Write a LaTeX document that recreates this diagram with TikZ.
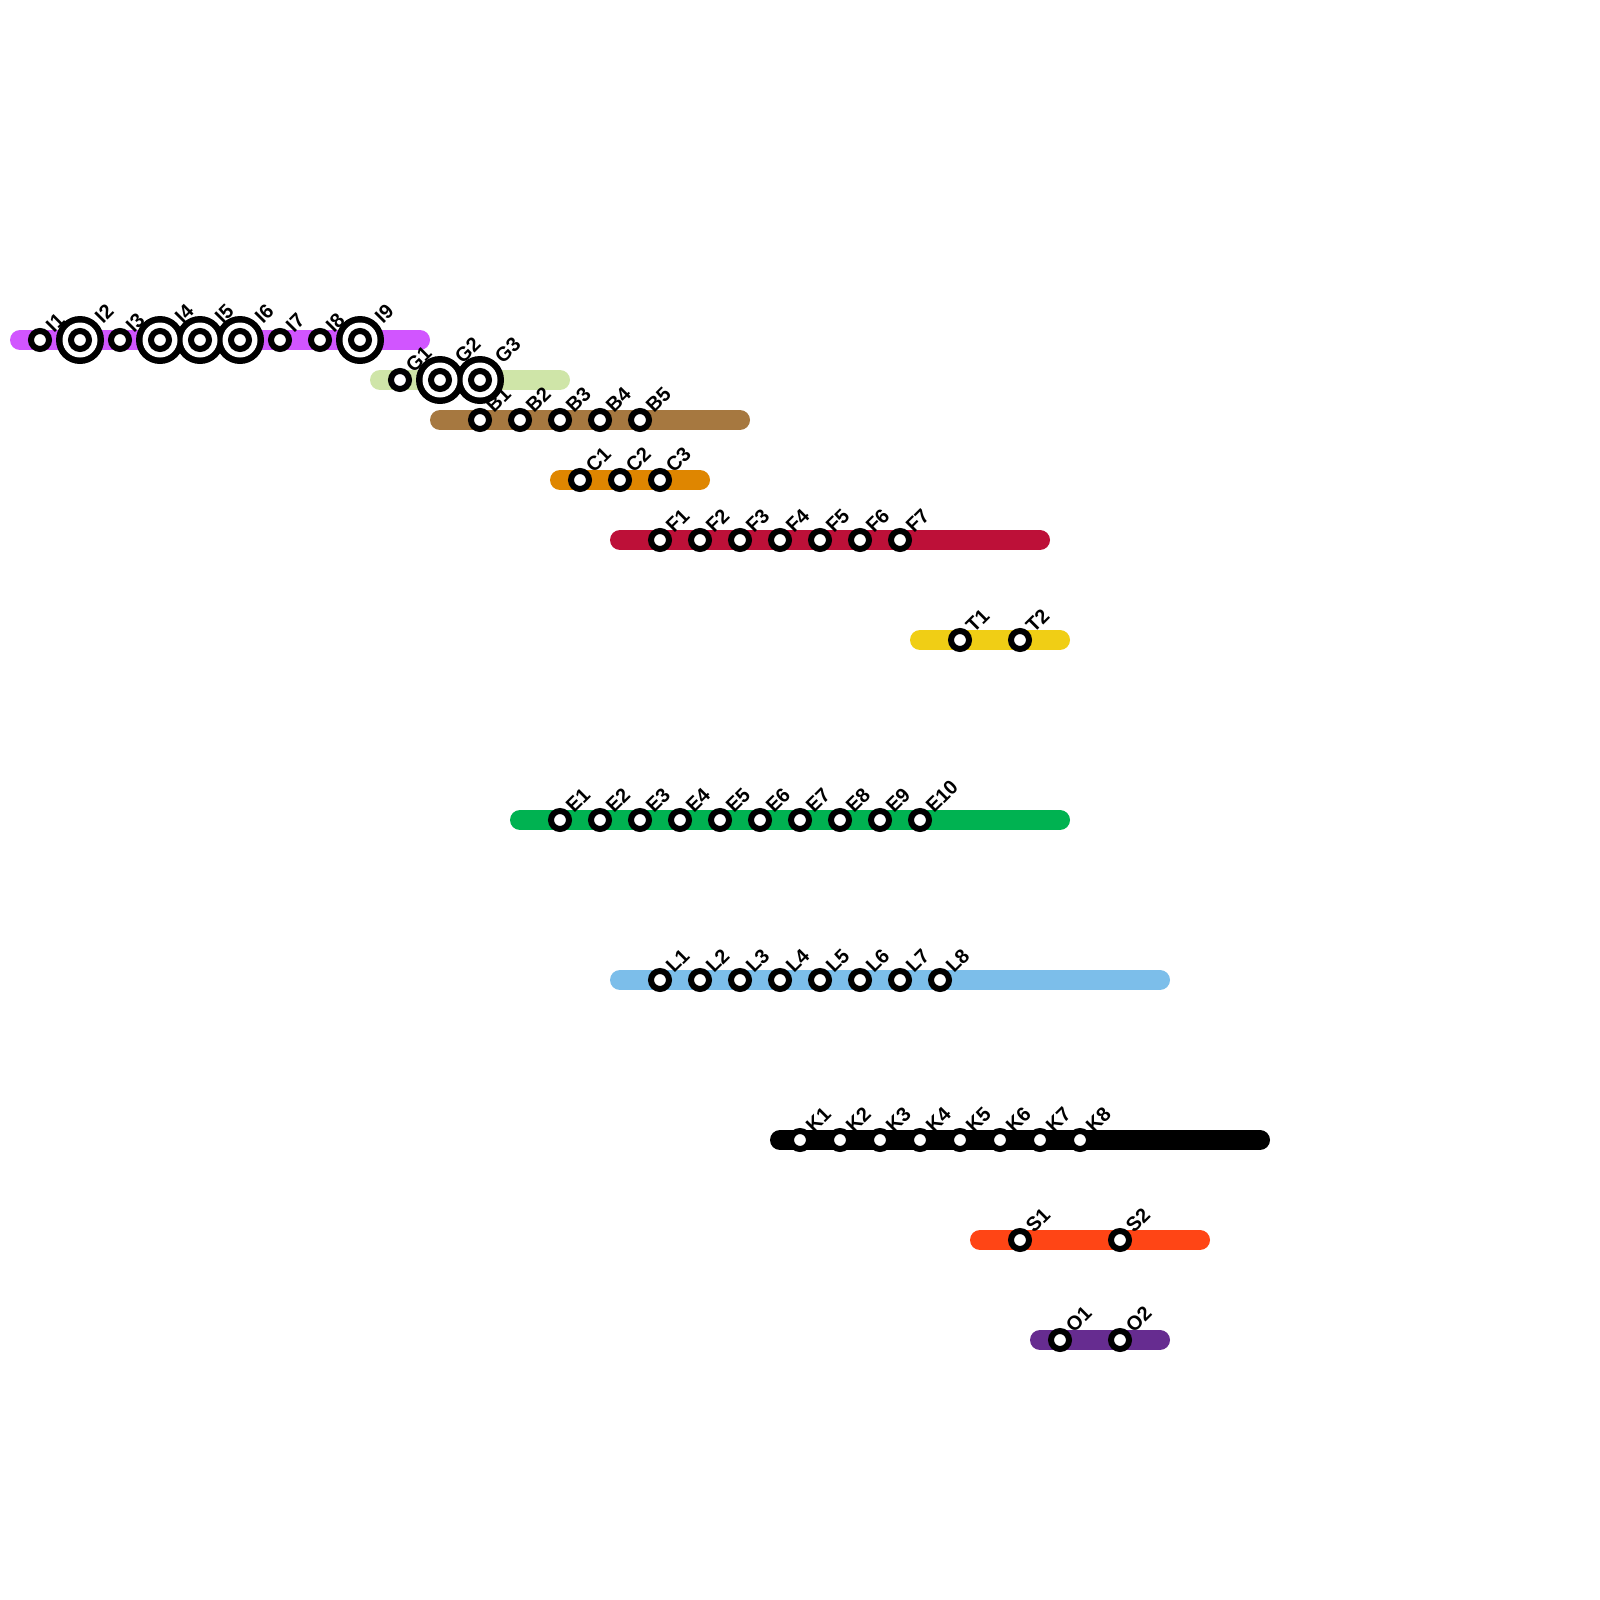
\documentclass[tikz,border=0pt]{standalone}
\usepackage{fontspec}
\setmainfont{Liberation Sans}
\usepackage{xcolor}
\usepackage{tikz}
\usetikzlibrary{positioning}

\definecolor{lineI}{HTML}{D155FF}
\definecolor{lineG}{HTML}{CFE5A8}
\definecolor{lineB}{HTML}{A67840}
\definecolor{lineC}{HTML}{DF8600}
\definecolor{lineF}{HTML}{BD1038}
\definecolor{lineT}{HTML}{F0CE15}
\definecolor{lineE}{HTML}{00B251}
\definecolor{lineL}{HTML}{7CBEEA}
\definecolor{lineK}{HTML}{000000}
\definecolor{lineS}{HTML}{FF4515}
\definecolor{lineO}{HTML}{662C90}

% stops that carry an interchange ring
\newcommand{\markhub}[1]{\expandafter\def\csname hub#1\endcsname{}}
\markhub{I2}\markhub{I4}\markhub{I5}\markhub{I6}\markhub{I9}\markhub{G2}\markhub{G3}

\begin{document}
\begin{tikzpicture}[
    x=1pt, y=-1pt,
    metro/.style={line width=20pt, line cap=round},
    stop/.style={circle, draw=black, fill=white, line width=6pt, minimum size=18pt, inner sep=0pt, outer sep=0pt},
    hubouter/.style={circle, fill=black, minimum size=48pt, inner sep=0pt, outer sep=0pt},
    hubinner/.style={circle, fill=white, minimum size=35pt, inner sep=0pt, outer sep=0pt},
    stoplabel/.style={anchor=base west, rotate=45, inner sep=0pt, font=\bfseries\fontsize{20}{24}\selectfont}
]
    \useasboundingbox (0,0) rectangle (1600,1600);

    % Lines
    \foreach \lname/\xa/\xb/\yy in {I/20/420/340, G/380/560/380, B/440/740/420, C/560/700/480, F/620/1040/540, T/920/1060/640, E/520/1060/820, L/620/1160/980, K/780/1260/1140, S/980/1200/1240, O/1040/1160/1340} {
        \coordinate (\lname start) at (\xa,\yy);
        \coordinate (\lname end) at (\xb,\yy);
        \draw[metro, line\lname] (\lname start) -- (\lname end);
    }

    % Stop positions and labels
    \foreach \lname/\n/\xs/\st/\yy in {I/9/40/40/340, G/3/400/40/380, B/5/480/40/420, C/3/580/40/480, F/7/660/40/540, T/2/960/60/640, E/10/560/40/820, L/8/660/40/980, K/8/800/40/1140, S/2/1020/100/1240, O/2/1060/60/1340} {
        \foreach \i in {1,...,\n} {
            \pgfmathsetmacro{\xx}{\xs+(\i-1)*\st}
            \ifcsname hub\lname\i\endcsname \def\off{9}\else \def\off{0}\fi
            \coordinate (pos\lname\i) at (\xx,\yy);
            \node[stoplabel] (lab\lname\i) at (\xx+14+\off,\yy-6-\off) {\lname\i};
        }
    }

    % Interchange rings: black discs first so that the white centres stay whole
    \foreach \hubname in {I2,I4,I5,I6,I9,G2,G3} {
        \node[hubouter] (outer\hubname) at (pos\hubname) {};
    }
    \foreach \hubname in {I2,I4,I5,I6,I9,G2,G3} {
        \node[hubinner] (inner\hubname) at (pos\hubname) {};
    }

    % Stops
    \foreach \lname/\n in {I/9, G/3, B/5, C/3, F/7, T/2, E/10, L/8, K/8, S/2, O/2} {
        \foreach \i in {1,...,\n} {
            \node[stop] (stop\lname\i) at (pos\lname\i) {};
        }
    }
\end{tikzpicture}
\end{document}
